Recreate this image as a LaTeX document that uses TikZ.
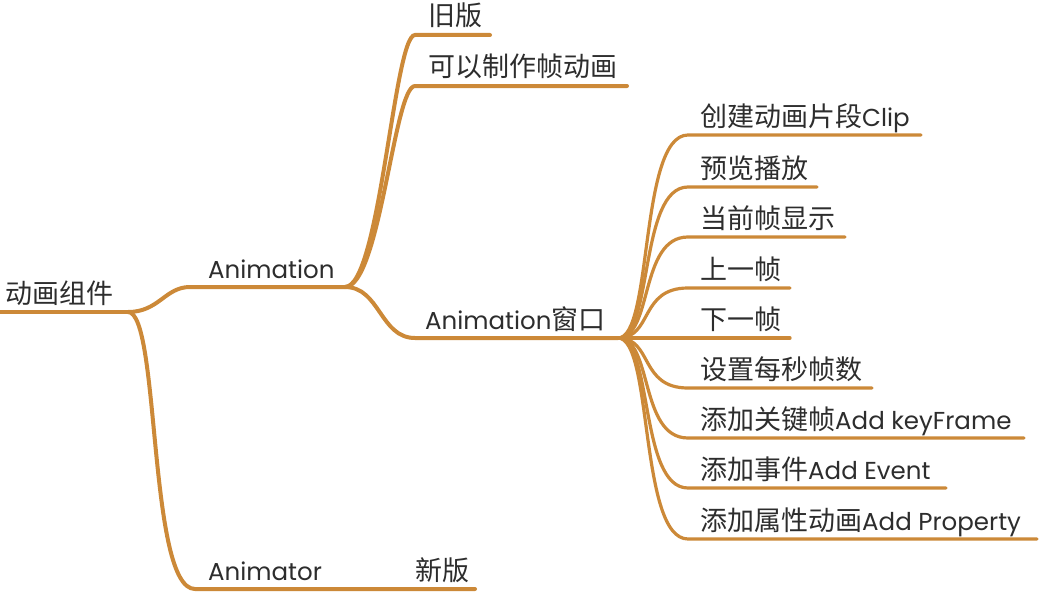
\documentclass[tikz,border=0pt]{standalone}
\usepackage{fontspec}
\usetikzlibrary{calc}
\setmainfont{Poppins}
\newfontfamily\cjk{Noto Sans CJK SC}
\newcommand\zh[1]{{\cjk\fontsize{27}{30}\selectfont #1}}
\definecolor{branch}{RGB}{204,137,56}
\definecolor{txt}{RGB}{45,45,45}
\begin{document}
\begin{tikzpicture}[x=1pt,y=-1pt,
  lbl/.style={anchor=base west,inner sep=0pt,text=txt,font=\fontsize{24.5}{28}\selectfont},
  mainline/.style={draw=branch,line width=4pt,line cap=round},
  subline/.style={draw=branch,line width=3.2pt,line cap=round}]
\useasboundingbox[fill=white] (0,0) rectangle (1043,594);
% coordinates
\coordinate (r0) at (0,312);
\coordinate (r1) at (128,312);
\coordinate (a0) at (190,287);
\coordinate (a1) at (345,287);
\coordinate (m0) at (195,589);
\coordinate (m1) at (475,589);
\coordinate (o0) at (415,35);
\coordinate (o1) at (490,35);
\coordinate (f0) at (415,86);
\coordinate (f1) at (627,86);
\coordinate (w0) at (415,338);
\coordinate (w1) at (618,338);
\foreach \n/\y/\e in {1/135/921,2/187/817,3/237/845,4/288/790,5/338/790,6/388/872,7/438/1024,8/488/946,9/539/1037}{
  \coordinate (c\n s) at (688,\y);
  \coordinate (c\n e) at (\e,\y);
}
% texts
\node[lbl] (root) at (5,303) {\zh{动画组件}};
\node[lbl] (anim) at (208,278) {Animation};
\node[lbl] (ator) at (208,580) {Animator};
\node[lbl] (new) at (415,580) {\zh{新版}};
\node[lbl] (old) at (428,26) {\zh{旧版}};
\node[lbl] (frame) at (428,77) {\zh{可以制作帧动画}};
\node[lbl] (win) at (425,329) {Animation\zh{窗口}};
\node[lbl] (t1) at (700,126) {\zh{创建动画片段}Clip};
\node[lbl] (t2) at (700,178) {\zh{预览播放}};
\node[lbl] (t3) at (700,228) {\zh{当前帧显示}};
\node[lbl] (t4) at (700,279) {\zh{上一帧}};
\node[lbl] (t5) at (700,329) {\zh{下一帧}};
\node[lbl] (t6) at (700,379) {\zh{设置每秒帧数}};
\node[lbl] (t7) at (700,429) {\zh{添加关键帧}Add keyFrame};
\node[lbl] (t8) at (700,479) {\zh{添加事件}Add Event};
\node[lbl] (t9) at (700,530) {\zh{添加属性动画}Add Property};
% connectors
\draw[mainline] (r0) -- (r1);
\draw[mainline] (r1) .. controls (159,312) and (165,287) .. (a0) -- (a1);
\draw[mainline] (r1) .. controls (160,312) and (148,589) .. (m0) -- (m1);
\draw[mainline] (a1) .. controls (380,287) and (394,35) .. (o0) -- (o1);
\draw[mainline] (a1) .. controls (380,287) and (394,86) .. (f0) -- (f1);
\draw[mainline] (a1) .. controls (380,287) and (380,338) .. (w0) -- (w1);
\foreach \n in {1,...,9}{
  \draw[subline] (w1) .. controls ($(w1)!0.5!(w1 -| c\n s)$) and ($(c\n s)!0.7!(c\n s -| w1)$) .. (c\n s) -- (c\n e);
}
\end{tikzpicture}
\end{document}
